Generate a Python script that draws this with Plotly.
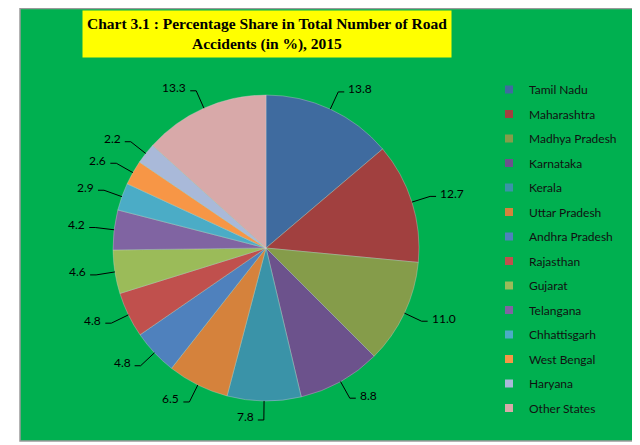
"""Pie chart: share of road accidents by state, 2015."""
import math

import plotly.graph_objects as go

states = [
    "Tamil Nadu", "Maharashtra", "Madhya Pradesh", "Karnataka", "Kerala",
    "Uttar Pradesh", "Andhra Pradesh", "Rajasthan", "Gujarat", "Telangana",
    "Chhattisgarh", "West Bengal", "Haryana", "Other States",
]
share = [13.8, 12.7, 11.0, 8.8, 7.8, 6.5, 4.8, 4.8, 4.6, 4.2, 2.9, 2.6, 2.2, 13.3]
colors = [
    "#3F6B9F", "#A1403F", "#859C4A", "#6C528C", "#3A93A8", "#D5823C",
    "#4F81BD", "#C0504D", "#9BBB59", "#8064A2", "#4BACC6", "#F79646",
    "#A9B9D9", "#D8A9A9",
]

# the page body has an 8px margin, so the figure is shrunk to fit the window
OFF = 8
W, H = 640 - OFF, 445 - OFF
# pie placement in window pixels
cx, cy, r = 266, 248, 153


def px(x):
    return (x - OFF) / W


def py(y):
    return 1 - (y - OFF) / H


fig = go.Figure()

# green chart area with grey frame
fig.add_shape(type="rect", xref="paper", yref="paper", layer="below",
              x0=px(20), x1=px(635), y0=py(441), y1=py(OFF + 0.5),
              fillcolor="#00B050", line=dict(color="#9A9A9A", width=1.5))

fig.add_trace(go.Pie(
    labels=states, values=share, sort=False, direction="clockwise",
    rotation=0, textinfo="none", hoverinfo="label+value",
    marker=dict(colors=colors, line=dict(color="rgba(210,210,210,0.6)", width=0.6)),
    domain=dict(x=[px(cx - r), px(cx + r)], y=[py(cy + r), py(cy - r)]),
    showlegend=False,
))

# legend built from dummy traces so spacing can be set
for name, col in zip(states, colors):
    fig.add_trace(go.Scatter(
        x=[None], y=[None], mode="markers", name=name, legendgroup=name,
        marker=dict(symbol="square", size=8, color=col),
    ))

# data labels with leader lines, placed from slice mid-angles
total = sum(share)
cum = 0
for v in share:
    mid = (cum + v / 2) / total * 2 * math.pi
    cum += v
    sx, sy = math.sin(mid), -math.cos(mid)
    x0, y0 = cx + r * sx, cy + r * sy
    x1, y1 = cx + (r + 19) * sx, cy + (r + 19) * sy
    side = 1 if sx >= 0 else -1
    x2 = x1 + 6 * side
    fig.add_shape(type="line", xref="paper", yref="paper",
                  x0=px(x0), y0=py(y0), x1=px(x1), y1=py(y1),
                  line=dict(color="black", width=1))
    fig.add_shape(type="line", xref="paper", yref="paper",
                  x0=px(x1), y0=py(y1), x1=px(x2), y1=py(y1),
                  line=dict(color="black", width=1))
    fig.add_annotation(
        x=px(x2 + 2 * side), y=py(y1 - 3), xref="paper", yref="paper",
        text=f"{v:.1f}", showarrow=False,
        xanchor="left" if side > 0 else "right", yanchor="middle",
        font=dict(family="Lato", size=12, color="black"),
    )

# title in yellow box
fig.add_annotation(
    x=px(267), y=py(34), xref="paper", yref="paper", showarrow=False,
    xanchor="center", yanchor="middle",
    text="<b>Chart 3.1 : Percentage Share in Total Number of Road<br>Accidents (in %), 2015</b>",
    font=dict(family="Liberation Serif", size=15.5, color="black"),
    bgcolor="#FFFF00", borderpad=4,
)

fig.update_layout(
    width=W, height=H,
    margin=dict(l=0, r=0, t=0, b=0, autoexpand=False),
    paper_bgcolor="white", plot_bgcolor="rgba(0,0,0,0)",
    xaxis=dict(visible=False), yaxis=dict(visible=False),
    legend=dict(x=px(489), y=py(75), xanchor="left", yanchor="top",
                bgcolor="rgba(0,0,0,0)", tracegroupgap=5.5,
                font=dict(family="Lato", size=12, color="#111111")),
)

fig.write_html("out.html")
